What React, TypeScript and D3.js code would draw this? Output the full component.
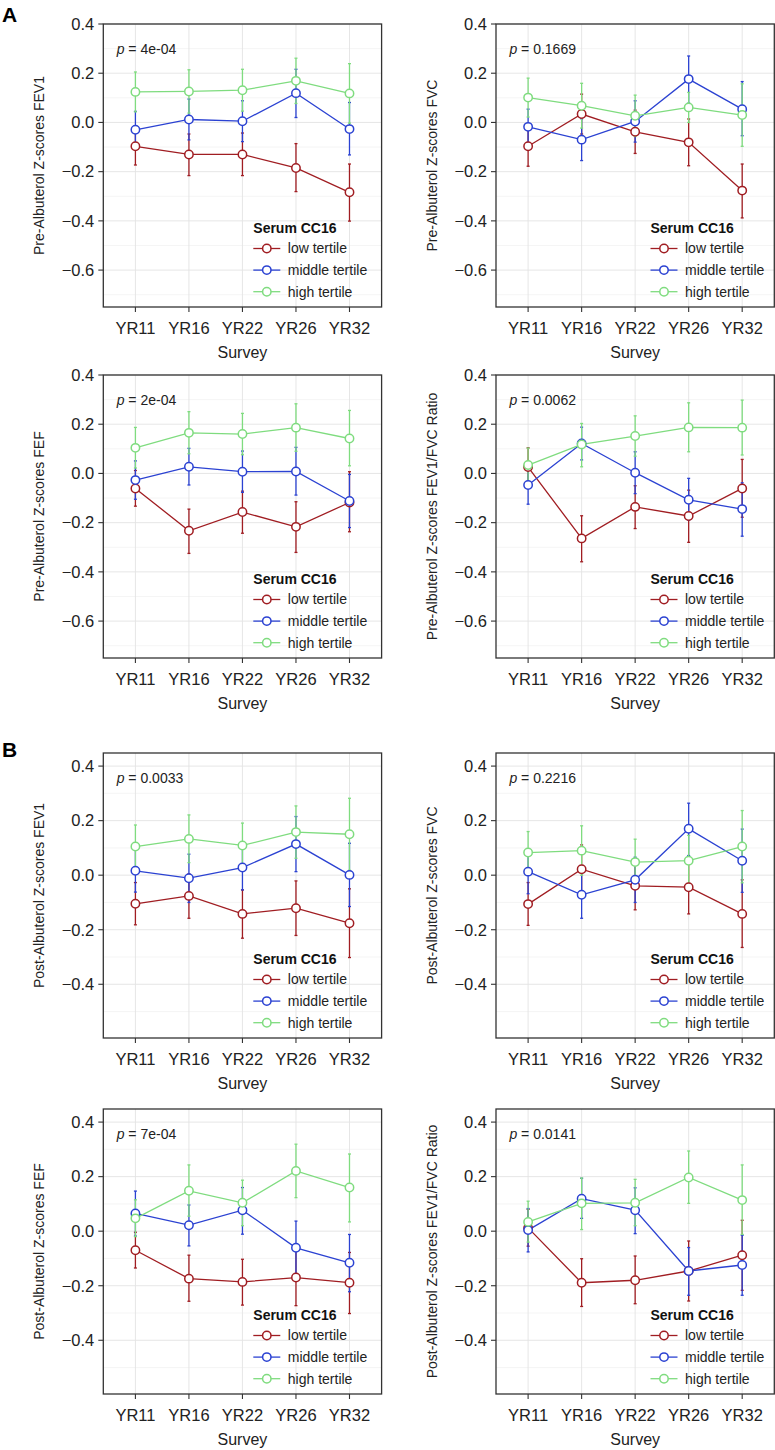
import React from 'react';
import * as d3 from 'd3';

// ---------- data ----------
const surveys = ['YR11', 'YR16', 'YR22', 'YR26', 'YR32'];
const tertiles = ['low tertile', 'middle tertile', 'high tertile'];
const legendTitle = 'Serum CC16';
const xTitle = 'Survey';

// each point: [mean, lower, upper]
const preFEV1Low = [[-0.097, -0.173, -0.021], [-0.130, -0.216, -0.047], [-0.130, -0.216, -0.043], [-0.185, -0.281, -0.086], [-0.284, -0.401, -0.169]];
const preFEV1Mid = [[-0.030, -0.105, 0.045], [0.012, -0.071, 0.095], [0.005, -0.078, 0.088], [0.119, 0.020, 0.216], [-0.027, -0.132, 0.081]];
const preFEV1High = [[0.124, 0.043, 0.205], [0.126, 0.038, 0.214], [0.131, 0.046, 0.216], [0.169, 0.077, 0.261], [0.118, -0.003, 0.239]];

const preFVCLow = [[-0.097, -0.178, -0.016], [0.034, -0.047, 0.115], [-0.038, -0.126, 0.050], [-0.081, -0.176, 0.014], [-0.277, -0.388, -0.169]];
const preFVCMid = [[-0.018, -0.090, 0.054], [-0.070, -0.155, 0.015], [0.004, -0.080, 0.088], [0.176, 0.078, 0.270], [0.054, -0.054, 0.166]];
const preFVCHigh = [[0.101, 0.022, 0.180], [0.068, -0.023, 0.159], [0.027, -0.057, 0.111], [0.061, 0.000, 0.122], [0.030, -0.097, 0.157]];

const preFEFLow = [[-0.061, -0.133, 0.012], [-0.233, -0.325, -0.145], [-0.157, -0.243, -0.072], [-0.217, -0.321, -0.115], [-0.118, -0.237, 0.007]];
const preFEFMid = [[-0.027, -0.105, 0.051], [0.027, -0.047, 0.102], [0.007, -0.077, 0.091], [0.008, -0.088, 0.106], [-0.112, -0.220, -0.004]];
const preFEFHigh = [[0.104, 0.022, 0.187], [0.165, 0.080, 0.251], [0.160, 0.076, 0.244], [0.186, 0.090, 0.283], [0.142, 0.031, 0.256]];

const preRatioLow = [[0.026, -0.052, 0.104], [-0.264, -0.359, -0.172], [-0.136, -0.224, -0.050], [-0.173, -0.280, -0.068], [-0.061, -0.178, 0.057]];
const preRatioMid = [[-0.047, -0.125, 0.030], [0.122, 0.055, 0.188], [0.003, -0.082, 0.088], [-0.107, -0.190, -0.020], [-0.145, -0.255, -0.038]];
const preRatioHigh = [[0.034, -0.035, 0.103], [0.118, 0.027, 0.203], [0.152, 0.070, 0.234], [0.187, 0.088, 0.287], [0.186, 0.075, 0.298]];

const postFEV1Low = [[-0.105, -0.182, -0.027], [-0.076, -0.158, 0.005], [-0.142, -0.231, -0.054], [-0.121, -0.221, -0.021], [-0.176, -0.302, -0.050]];
const postFEV1Mid = [[0.016, -0.062, 0.095], [-0.011, -0.100, 0.077], [0.028, -0.054, 0.110], [0.114, 0.013, 0.215], [0.001, -0.115, 0.117]];
const postFEV1High = [[0.105, 0.026, 0.184], [0.133, 0.046, 0.221], [0.109, 0.027, 0.191], [0.158, 0.062, 0.254], [0.150, 0.018, 0.282]];

const postFVCLow = [[-0.106, -0.184, -0.027], [0.022, -0.065, 0.111], [-0.039, -0.127, 0.050], [-0.044, -0.142, 0.054], [-0.142, -0.265, -0.017]];
const postFVCMid = [[0.013, -0.068, 0.095], [-0.072, -0.158, 0.014], [-0.017, -0.100, 0.066], [0.170, 0.072, 0.264], [0.053, -0.063, 0.169]];
const postFVCHigh = [[0.083, 0.005, 0.160], [0.090, 0.000, 0.181], [0.048, -0.037, 0.132], [0.053, -0.040, 0.146], [0.105, -0.028, 0.237]];

const postFEFLow = [[-0.070, -0.135, -0.004], [-0.174, -0.257, -0.088], [-0.186, -0.271, -0.103], [-0.170, -0.273, -0.068], [-0.189, -0.302, -0.078]];
const postFEFMid = [[0.065, -0.018, 0.147], [0.022, -0.054, 0.096], [0.077, -0.011, 0.160], [-0.061, -0.158, 0.037], [-0.116, -0.222, -0.012]];
const postFEFHigh = [[0.047, -0.020, 0.115], [0.148, 0.055, 0.243], [0.104, 0.020, 0.187], [0.221, 0.123, 0.319], [0.160, 0.034, 0.283]];

const postRatioLow = [[0.012, -0.055, 0.080], [-0.189, -0.276, -0.101], [-0.180, -0.266, -0.091], [-0.146, -0.256, -0.036], [-0.088, -0.217, 0.040]];
const postRatioMid = [[0.004, -0.076, 0.083], [0.119, 0.047, 0.194], [0.077, -0.009, 0.159], [-0.146, -0.235, -0.060], [-0.124, -0.235, -0.015]];
const postRatioHigh = [[0.034, -0.040, 0.110], [0.102, 0.006, 0.195], [0.104, 0.020, 0.190], [0.197, 0.102, 0.294], [0.114, -0.012, 0.243]];

const panelTitles = [
  'Pre-Albuterol Z-scores FEV1', 'Pre-Albuterol Z-scores FVC',
  'Pre-Albuterol Z-scores FEF', 'Pre-Albuterol Z-scores FEV1/FVC Ratio',
  'Post-Albuterol Z-scores FEV1', 'Post-Albuterol Z-scores FVC',
  'Post-Albuterol Z-scores FEF', 'Post-Albuterol Z-scores FEV1/FVC Ratio',
];
const pValues = ['4e-04', '0.1669', '2e-04', '0.0062', '0.0033', '0.2216', '7e-04', '0.0141'];
const panelSeries = [
  [preFEV1Low, preFEV1Mid, preFEV1High],
  [preFVCLow, preFVCMid, preFVCHigh],
  [preFEFLow, preFEFMid, preFEFHigh],
  [preRatioLow, preRatioMid, preRatioHigh],
  [postFEV1Low, postFEV1Mid, postFEV1High],
  [postFVCLow, postFVCMid, postFVCHigh],
  [postFEFLow, postFEFMid, postFEFHigh],
  [postRatioLow, postRatioMid, postRatioHigh],
];
const sectionLabels = ['A', 'B'];

const preMajorTicks = [-0.6, -0.4, -0.2, 0, 0.2, 0.4];
const preMinorTicks = [-0.7, -0.5, -0.3, -0.1, 0.1, 0.3];
const postMajorTicks = [-0.4, -0.2, 0, 0.2, 0.4];
const postMinorTicks = [-0.5, -0.3, -0.1, 0.1, 0.3];

// ---------- styling / layout ----------
const W = 775;
const H = 1450;
const FONT = '"Liberation Sans", Arial, Helvetica, sans-serif';
const colors = ['#a01d22', '#2b42d2', '#7fdc7f'];
const colLeft = [103.3, 496];
const panelW = 278.3;
const legendOffset = [150, 154.5];
const rows = [
  { top: 24, h: 283, domain: [-0.75, 0.4], major: preMajorTicks, minor: preMinorTicks },
  { top: 375, h: 283, domain: [-0.75, 0.4], major: preMajorTicks, minor: preMinorTicks },
  { top: 753, h: 285, domain: [-0.597, 0.448], major: postMajorTicks, minor: postMinorTicks },
  { top: 1109, h: 285, domain: [-0.597, 0.448], major: postMajorTicks, minor: postMinorTicks },
];
const sectionY = [22, 757];

const fmt = d3.format('.1f');

function Panel({ idx }: { idx: number }) {
  const r = rows[Math.floor(idx / 2)];
  const c = idx % 2;
  const left = colLeft[c];
  const top = r.top;
  const bottom = r.top + r.h;
  const right = left + panelW;
  const x = d3.scalePoint<string>().domain(surveys).range([left, right]).padding(0.6);
  const y = d3.scaleLinear().domain(r.domain).range([bottom, top]);
  const series = panelSeries[idx];
  const line = d3
    .line<number[]>()
    .x((_, i) => x(surveys[i]) as number)
    .y((d) => y(d[0]));
  const lx = left + legendOffset[c];

  return (
    <g>
      <rect x={left} y={top} width={panelW} height={r.h} fill="#ffffff" />
      {r.minor.map((t) => (
        <line key={'mi' + t} x1={left} x2={right} y1={y(t)} y2={y(t)} stroke="#f0f0f0" strokeWidth={0.7} />
      ))}
      {r.major.map((t) => (
        <line key={'ma' + t} x1={left} x2={right} y1={y(t)} y2={y(t)} stroke="#e3e3e3" strokeWidth={0.9} />
      ))}
      {surveys.map((s) => (
        <line key={'vg' + s} x1={x(s)} x2={x(s)} y1={top} y2={bottom} stroke="#e3e3e3" strokeWidth={0.9} />
      ))}
      {/* error bars */}
      {series.map((ser, si) =>
        ser.map((d, i) => {
          const cx = x(surveys[i]) as number;
          return (
            <g key={'eb' + si + '-' + i} stroke={colors[si]} strokeWidth={1.3}>
              <line x1={cx} x2={cx} y1={y(d[1])} y2={y(d[2])} />
              <line x1={cx - 1.5} x2={cx + 1.5} y1={y(d[1])} y2={y(d[1])} />
              <line x1={cx - 1.5} x2={cx + 1.5} y1={y(d[2])} y2={y(d[2])} />
            </g>
          );
        })
      )}
      {/* lines */}
      {series.map((ser, si) => (
        <path key={'ln' + si} d={line(ser) as string} fill="none" stroke={colors[si]} strokeWidth={1.3} />
      ))}
      {/* points */}
      {series.map((ser, si) =>
        ser.map((d, i) => (
          <circle
            key={'pt' + si + '-' + i}
            cx={x(surveys[i]) as number}
            cy={y(d[0])}
            r={4.2}
            fill="#ffffff"
            stroke={colors[si]}
            strokeWidth={1.5}
          />
        ))
      )}
      {/* frame */}
      <rect x={left} y={top} width={panelW} height={r.h} fill="none" stroke="#333333" strokeWidth={1.3} />
      {/* y axis */}
      {r.major.map((t) => (
        <g key={'yt' + t}>
          <line x1={left - 5} x2={left} y1={y(t)} y2={y(t)} stroke="#333333" strokeWidth={1.1} />
          <text x={left - 9} y={y(t)} dy="0.35em" textAnchor="end" fontSize={16.5} fill="#222222" fontFamily={FONT}>
            {fmt(t)}
          </text>
        </g>
      ))}
      {/* x axis */}
      {surveys.map((s) => (
        <g key={'xt' + s}>
          <line x1={x(s)} x2={x(s)} y1={bottom} y2={bottom + 5} stroke="#333333" strokeWidth={1.1} />
          <text x={x(s)} y={bottom + 27} textAnchor="middle" fontSize={16.5} fill="#222222" fontFamily={FONT}>
            {s}
          </text>
        </g>
      ))}
      <text x={(left + right) / 2} y={bottom + 51} textAnchor="middle" fontSize={16} fill="#222222" fontFamily={FONT}>
        {xTitle}
      </text>
      <text
        transform={`translate(${left - 59},${(top + bottom) / 2}) rotate(-90)`}
        textAnchor="middle"
        fontSize={14}
        fill="#222222"
        fontFamily={FONT}
      >
        {panelTitles[idx]}
      </text>
      {/* p-value */}
      <text x={left + 13.4} y={top + 29.5} fontSize={14} fill="#222222" fontFamily={FONT}>
        <tspan fontStyle="italic">p</tspan>
        <tspan>{' = ' + pValues[idx]}</tspan>
      </text>
      {/* legend */}
      <text x={lx} y={bottom - 74} fontSize={14} fontWeight="bold" fill="#111111" fontFamily={FONT}>
        {legendTitle}
      </text>
      {tertiles.map((t, i) => {
        const cy = bottom - 58.5 + i * 21.6;
        return (
          <g key={'lg' + t}>
            <line x1={lx} x2={lx + 27} y1={cy} y2={cy} stroke={colors[i]} strokeWidth={1.3} />
            <circle cx={lx + 13.5} cy={cy} r={4.2} fill="#ffffff" stroke={colors[i]} strokeWidth={1.5} />
            <text x={lx + 34.5} y={cy} dy="0.35em" fontSize={14} fill="#222222" fontFamily={FONT}>
              {t}
            </text>
          </g>
        );
      })}
    </g>
  );
}

export default function App() {
  return (
    <svg
      width={W}
      height={H}
      viewBox={`0 0 ${W} ${H}`}
      style={{ position: 'absolute', left: 0, top: 0, background: '#ffffff' }}
    >
      <rect x={0} y={0} width={W} height={H} fill="#ffffff" />
      {sectionLabels.map((s, i) => (
        <text key={s} x={2} y={sectionY[i]} fontSize={21} fontWeight="bold" fill="#000000" fontFamily={FONT}>
          {s}
        </text>
      ))}
      {panelTitles.map((_, i) => (
        <Panel key={i} idx={i} />
      ))}
    </svg>
  );
}
